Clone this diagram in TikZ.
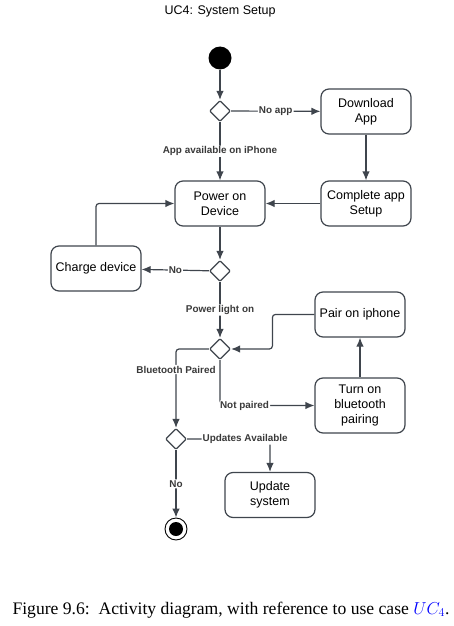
\documentclass[tikz,border=0pt]{standalone}
\usepackage{fontspec}
\setmainfont{Liberation Sans}
\newfontfamily\capfont{Liberation Serif}
\usetikzlibrary{shapes.geometric}
\usetikzlibrary{arrows.meta}

\definecolor{edgegray}{HTML}{3F454D}
\definecolor{guardgray}{HTML}{3A3A3A}

\begin{document}
\begin{tikzpicture}
[x=1pt, y=-1pt,
action/.style   = {rectangle, draw=edgegray, line width=1.2pt, rounded corners=8pt, minimum width=90pt, minimum height=45pt, align=center, inner sep=2pt, font=\fontsize{12.5}{15}\selectfont},
decision/.style = {diamond, draw=edgegray, line width=1.2pt, minimum width=21pt, minimum height=21pt, inner sep=0pt, rounded corners=1pt},
initial/.style  = {circle, fill=black, minimum size=23pt, inner sep=0pt},
final/.style    = {circle, draw=black, line width=0.9pt, minimum size=22pt, inner sep=0pt, path picture={\fill[black] (path picture bounding box.center) circle (7pt);}},
guard/.style    = {fill=white, inner sep=1pt, text=guardgray, font=\bfseries\fontsize{9.9}{12}\selectfont},
line/.style     = {draw=edgegray, line width=1.2pt, -{Latex[length=9pt,width=7.5pt]}, rounded corners=3pt}
]
\useasboundingbox (0,0) rectangle (454,626);

\node (title) at (220,11) {\fontsize{12.5}{15}\selectfont UC4: System Setup};

% top part
\node [initial] (start) at (220,58) {};
\node [decision] (app_exist) at (220,111) {};
\node [action] (download_app) at (366,111.5) {Download\\App};
\node [action] (power_device) at (220,203.5) {Power on\\Device};
\node [action] (complete_setup) at (366,203.5) {Complete app\\Setup};

% power check
\node [decision] (power_on) at (220,271) {};
\node [action] (charge_device) at (96,268.5) {Charge device};

% bluetooth
\node [decision] (bt_paired) at (220,349) {};
\node [action] (pair_iphone) at (360,314.5) {Pair on iphone};
\node [action, minimum height=55pt] (bt_pairing) at (360,405.5) {Turn on\\bluetooth\\pairing};

% updates
\node [decision] (updates) at (176,439) {};
\node [action] (update_system) at (270,495) {Update\\system};
\node [final] (stop) at (176,529) {};

\node (caption) at (231,610) {\capfont\fontsize{17.6}{20}\selectfont Figure 9.6:\enspace Activity diagram, with reference to use case \textcolor{blue}{$UC_4$}.};

\begin{scope}[every path/.style=line]
\path (start) -- (app_exist);
\path (app_exist) -- node [guard] {No app} (download_app);
\path (app_exist) -- node [guard] {App available on iPhone} (power_device);
\path (download_app) -- (complete_setup);
\path (complete_setup) -- (power_device);
\path (charge_device) |- (power_device);
\path (power_device) -- (power_on);
\path (power_on) -- node [guard] {No} (charge_device);
\path (power_on) -- node [guard] {Power light on} (bt_paired);
\path (bt_pairing) -- (pair_iphone);
\path (pair_iphone.west) -- ++(-42,0) |- (bt_paired);
\path (bt_paired) |- node [guard, pos=0.63] {Not paired} (bt_pairing);
\path (bt_paired) -| node [guard, pos=0.63] {Bluetooth Paired} (updates);
\path (updates) -| node [guard, pos=0.35] {Updates Available} (update_system);
\path (updates) -- node [guard] {No} (stop);
\end{scope}

\end{tikzpicture}
\end{document}
